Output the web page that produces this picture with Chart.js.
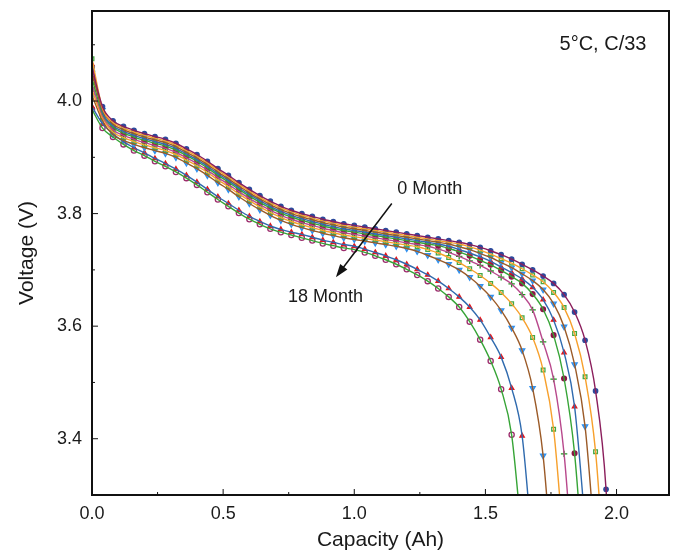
<!DOCTYPE html>
<html>
<head>
<meta charset="utf-8">
<title>Discharge curves, 5°C, C/33</title>
<script src="https://cdn.jsdelivr.net/npm/chart.js@4.4.1/dist/chart.umd.min.js"></script>
<style>
  body { margin: 0; background: #ffffff; }
</style>
</head>
<body>
<canvas id="voltChart" width="679" height="553"></canvas>
<script>
// capacity grid of the measured points (Ah)
var capacity = [
  0.00, 0.04, 0.08, 0.12, 0.16, 0.20, 0.24, 0.28, 0.32, 0.36,
  0.40, 0.44, 0.48, 0.52, 0.56, 0.60, 0.64, 0.68, 0.72, 0.76,
  0.80, 0.84, 0.88, 0.92, 0.96, 1.00, 1.04, 1.08, 1.12, 1.16,
  1.20, 1.24, 1.28, 1.32, 1.36, 1.40, 1.44, 1.48, 1.52, 1.56,
  1.60, 1.64, 1.68, 1.72, 1.76, 1.80, 1.84, 1.88, 1.92, 1.96,
  2.00
];

// cell voltage (V) after each storage period
var volt0m = [
  4.060, 3.990, 3.965, 3.955, 3.948, 3.942, 3.937, 3.932, 3.925, 3.915,
  3.905, 3.893, 3.880, 3.868, 3.855, 3.843, 3.832, 3.822, 3.813, 3.806,
  3.800, 3.795, 3.790, 3.786, 3.782, 3.779, 3.776, 3.773, 3.770, 3.767,
  3.764, 3.761, 3.758, 3.755, 3.752, 3.749, 3.745, 3.740, 3.734, 3.727,
  3.719, 3.710, 3.700, 3.689, 3.676, 3.656, 3.625, 3.575, 3.485, 3.310,
  2.900
];
var volt2m = [
  4.075, 3.987, 3.962, 3.952, 3.945, 3.939, 3.934, 3.929, 3.922, 3.912,
  3.902, 3.890, 3.877, 3.865, 3.852, 3.840, 3.829, 3.819, 3.810, 3.803,
  3.797, 3.792, 3.787, 3.783, 3.779, 3.776, 3.773, 3.770, 3.767, 3.764,
  3.761, 3.758, 3.755, 3.752, 3.749, 3.746, 3.741, 3.735, 3.728, 3.720,
  3.712, 3.702, 3.691, 3.679, 3.660, 3.633, 3.587, 3.510, 3.377, 3.120
];
var volt4m = [
  4.050, 3.984, 3.959, 3.949, 3.942, 3.936, 3.931, 3.926, 3.919, 3.909,
  3.899, 3.887, 3.874, 3.862, 3.849, 3.837, 3.826, 3.816, 3.807, 3.800,
  3.794, 3.789, 3.784, 3.780, 3.776, 3.773, 3.770, 3.767, 3.764, 3.761,
  3.758, 3.755, 3.752, 3.749, 3.746, 3.741, 3.736, 3.729, 3.722, 3.713,
  3.704, 3.693, 3.681, 3.665, 3.640, 3.599, 3.532, 3.422, 3.200
];
var volt6m = [
  4.065, 3.981, 3.956, 3.946, 3.939, 3.933, 3.928, 3.923, 3.916, 3.906,
  3.896, 3.884, 3.871, 3.859, 3.846, 3.834, 3.823, 3.813, 3.804, 3.797,
  3.791, 3.786, 3.781, 3.777, 3.773, 3.770, 3.767, 3.764, 3.761, 3.758,
  3.755, 3.752, 3.749, 3.746, 3.742, 3.736, 3.730, 3.723, 3.715, 3.705,
  3.695, 3.684, 3.669, 3.647, 3.611, 3.553, 3.457, 3.250
];
var volt8m = [
  4.040, 3.978, 3.953, 3.943, 3.936, 3.930, 3.925, 3.920, 3.913, 3.903,
  3.893, 3.881, 3.868, 3.856, 3.843, 3.831, 3.820, 3.810, 3.801, 3.794,
  3.788, 3.783, 3.778, 3.774, 3.770, 3.767, 3.764, 3.761, 3.758, 3.755,
  3.752, 3.749, 3.746, 3.743, 3.738, 3.732, 3.725, 3.717, 3.709, 3.699,
  3.688, 3.676, 3.657, 3.630, 3.584, 3.507, 3.374, 3.130
];
var volt10m = [
  4.030, 3.974, 3.949, 3.939, 3.932, 3.926, 3.921, 3.916, 3.909, 3.899,
  3.889, 3.877, 3.864, 3.852, 3.839, 3.827, 3.816, 3.806, 3.797, 3.790,
  3.784, 3.779, 3.774, 3.770, 3.766, 3.763, 3.760, 3.757, 3.754, 3.751,
  3.748, 3.745, 3.742, 3.737, 3.731, 3.724, 3.716, 3.708, 3.698, 3.687,
  3.675, 3.656, 3.629, 3.572, 3.506, 3.373, 3.130
];
var volt12m = [
  4.020, 3.970, 3.945, 3.935, 3.928, 3.922, 3.917, 3.912, 3.905, 3.895,
  3.885, 3.873, 3.860, 3.848, 3.835, 3.823, 3.812, 3.802, 3.793, 3.786,
  3.780, 3.775, 3.770, 3.766, 3.762, 3.759, 3.756, 3.753, 3.750, 3.747,
  3.744, 3.741, 3.736, 3.730, 3.722, 3.713, 3.702, 3.690, 3.676, 3.660,
  3.640, 3.615, 3.580, 3.522, 3.417, 3.200
];
var volt14m = [
  4.010, 3.965, 3.940, 3.930, 3.923, 3.917, 3.912, 3.907, 3.900, 3.890,
  3.880, 3.868, 3.855, 3.843, 3.830, 3.818, 3.807, 3.797, 3.788, 3.781,
  3.775, 3.770, 3.765, 3.761, 3.757, 3.754, 3.751, 3.748, 3.745, 3.742,
  3.738, 3.733, 3.726, 3.718, 3.710, 3.700, 3.687, 3.671, 3.652, 3.628,
  3.597, 3.557, 3.490, 3.370, 3.140
];
var volt16m = [
  3.990, 3.960, 3.942, 3.928, 3.917, 3.908, 3.898, 3.889, 3.879, 3.868,
  3.856, 3.843, 3.830, 3.818, 3.806, 3.795, 3.786, 3.778, 3.772, 3.767,
  3.763, 3.758, 3.753, 3.749, 3.745, 3.742, 3.737, 3.731, 3.725, 3.718,
  3.710, 3.701, 3.691, 3.680, 3.667, 3.652, 3.634, 3.611, 3.580, 3.545,
  3.490, 3.405, 3.200
];
var volt18m = [
  3.985, 3.952, 3.936, 3.923, 3.912, 3.903, 3.893, 3.884, 3.874, 3.863,
  3.851, 3.838, 3.825, 3.813, 3.801, 3.790, 3.781, 3.773, 3.767, 3.762,
  3.757, 3.752, 3.747, 3.743, 3.739, 3.736, 3.731, 3.725, 3.718, 3.710,
  3.701, 3.691, 3.680, 3.667, 3.652, 3.634, 3.608, 3.576, 3.538, 3.488,
  3.407, 3.220
];

var xTicks = [0.0, 0.5, 1.0, 1.5, 2.0];
var xMinorTicks = [0.25, 0.75, 1.25, 1.75];
var yTicks = [3.4, 3.6, 3.8, 4.0];
var yMinorTicks = [3.5, 3.7, 3.9, 4.1];

var fontFamily = "'Liberation Sans', Arial, Helvetica, sans-serif";

function toPoints(volts) {
  var pts = [];
  for (var i = 0; i < volts.length; i++) {
    pts.push({ x: capacity[i], y: volts[i] });
  }
  return pts;
}

// line colour = model fit, marker = measured data
var curves = [
  { volts: volt0m,  line: "#8b1e5c", style: "circle",   edge: "#2c4a9c", fill: "#2c4a9c", r: 2.2, rot: 0 },
  { volts: volt2m,  line: "#f7a02c", style: "rect",     edge: "#45a843", fill: "rgba(255,255,255,0)", r: 2.6, rot: 0 },
  { volts: volt4m,  line: "#9b5a27", style: "triangle", edge: "#2f90ef", fill: "#6ab4fb", r: 3.0, rot: 180 },
  { volts: volt6m,  line: "#2f6aae", style: "triangle", edge: "#e3181d", fill: "#e3181d", r: 2.5, rot: 0 },
  { volts: volt8m,  line: "#36a436", style: "circle",   edge: "#8c1446", fill: "#8c1446", r: 2.4, rot: 0 },
  { volts: volt10m, line: "#b8488c", style: "cross",    edge: "#1f951f", fill: "#1f951f", r: 3.2, rot: 0 },
  { volts: volt12m, line: "#f7a02c", style: "rect",     edge: "#45a843", fill: "rgba(255,255,255,0)", r: 2.6, rot: 0 },
  { volts: volt14m, line: "#9b5a27", style: "triangle", edge: "#2f90ef", fill: "#6ab4fb", r: 3.0, rot: 180 },
  { volts: volt16m, line: "#2f6aae", style: "triangle", edge: "#e3181d", fill: "#e3181d", r: 2.5, rot: 0 },
  { volts: volt18m, line: "#36a436", style: "circle",   edge: "#9c2c6c", fill: "rgba(255,255,255,0)", r: 2.6, rot: 0 }
];

var datasets = [];
curves.forEach(function(c) {
  datasets.push({
    data: toPoints(c.volts),
    showLine: false,
    pointStyle: c.style,
    pointRotation: c.rot,
    pointRadius: c.r,
    pointBorderColor: c.edge,
    pointBackgroundColor: c.fill,
    pointBorderWidth: 1.3,
    order: 2
  });
});
curves.forEach(function(c) {
  datasets.push({
    data: toPoints(c.volts),
    borderColor: c.line,
    borderWidth: 1.4,
    pointRadius: 0,
    cubicInterpolationMode: "monotone",
    fill: false,
    order: 1
  });
});

// closed frame plus inward tick marks
var frameTicks = {
  id: "frameTicks",
  afterDraw: function(chart) {
    var ctx = chart.ctx;
    var a = chart.chartArea;
    var sx = chart.scales.x;
    var sy = chart.scales.y;
    ctx.save();
    ctx.strokeStyle = "#111";
    ctx.lineWidth = 1;
    ctx.beginPath();
    xTicks.forEach(function(v) {
      var px = sx.getPixelForValue(v);
      ctx.moveTo(px, a.bottom); ctx.lineTo(px, a.bottom - 6);
    });
    xMinorTicks.forEach(function(v) {
      var px = sx.getPixelForValue(v);
      ctx.moveTo(px, a.bottom); ctx.lineTo(px, a.bottom - 3);
    });
    yTicks.forEach(function(v) {
      var py = sy.getPixelForValue(v);
      ctx.moveTo(a.left, py); ctx.lineTo(a.left + 6, py);
    });
    yMinorTicks.forEach(function(v) {
      var py = sy.getPixelForValue(v);
      ctx.moveTo(a.left, py); ctx.lineTo(a.left + 3, py);
    });
    ctx.stroke();
    ctx.lineWidth = 2;
    ctx.strokeRect(a.left, a.top, a.right - a.left, a.bottom - a.top);
    ctx.restore();
  }
};

// condition label and the ageing arrow
var notes = {
  id: "notes",
  afterDraw: function(chart) {
    var ctx = chart.ctx;
    var sx = chart.scales.x;
    var sy = chart.scales.y;
    ctx.save();
    ctx.fillStyle = "#1a1a1a";
    ctx.textBaseline = "middle";
    ctx.textAlign = "right";
    ctx.font = "20px " + fontFamily;
    ctx.fillText("5\u00B0C, C/33", sx.getPixelForValue(2.114), sy.getPixelForValue(4.101));
    ctx.textAlign = "center";
    ctx.font = "18px " + fontFamily;
    ctx.fillText("0 Month", sx.getPixelForValue(1.288), sy.getPixelForValue(3.844));
    ctx.fillText("18 Month", sx.getPixelForValue(0.89), sy.getPixelForValue(3.651));

    var x0 = sx.getPixelForValue(1.143), y0 = sy.getPixelForValue(3.818);
    var x1 = sx.getPixelForValue(0.93), y1 = sy.getPixelForValue(3.687);
    var ang = Math.atan2(y1 - y0, x1 - x0);
    var cos = Math.cos(ang), sin = Math.sin(ang);
    ctx.strokeStyle = "#111";
    ctx.lineWidth = 1.5;
    ctx.beginPath();
    ctx.moveTo(x0, y0);
    ctx.lineTo(x1 - 10 * cos, y1 - 10 * sin);
    ctx.stroke();
    ctx.fillStyle = "#111";
    ctx.beginPath();
    ctx.moveTo(x1, y1);
    ctx.lineTo(x1 - 13 * cos + 4.5 * sin, y1 - 13 * sin - 4.5 * cos);
    ctx.lineTo(x1 - 13 * cos - 4.5 * sin, y1 - 13 * sin + 4.5 * cos);
    ctx.closePath();
    ctx.fill();
    ctx.restore();
  }
};

var ctx = document.getElementById("voltChart").getContext("2d");
window.voltChart = new Chart(ctx, {
  type: "line",
  data: { datasets: datasets },
  plugins: [frameTicks, notes],
  options: {
    responsive: false,
    animation: false,
    devicePixelRatio: 1,
    layout: { padding: { top: 11, right: 10, left: 0, bottom: 0 } },
    plugins: {
      legend: { display: false },
      tooltip: { enabled: false }
    },
    scales: {
      x: {
        type: "linear",
        min: 0,
        max: 2.2,
        afterBuildTicks: function(scale) {
          scale.ticks = xTicks.map(function(v) { return { value: v }; });
        },
        afterFit: function(scale) {
          scale.height = 58;
          scale.paddingLeft = 0;
          scale.paddingRight = 0;
        },
        grid: { display: false, drawTicks: false },
        border: { display: false },
        ticks: {
          padding: 8,
          maxRotation: 0,
          color: "#1a1a1a",
          font: { family: fontFamily, size: 18 },
          callback: function(v) { return Number(v).toFixed(1); }
        },
        title: {
          display: true,
          text: "Capacity (Ah)",
          color: "#1a1a1a",
          font: { family: fontFamily, size: 21 },
          padding: { top: 0, bottom: 0 }
        }
      },
      y: {
        type: "linear",
        min: 3.3,
        max: 4.16,
        afterBuildTicks: function(scale) {
          scale.ticks = yTicks.map(function(v) { return { value: v }; });
        },
        afterFit: function(scale) {
          scale.width = 92;
          scale.paddingTop = 0;
          scale.paddingBottom = 0;
        },
        grid: { display: false, drawTicks: false },
        border: { display: false },
        ticks: {
          padding: 10,
          color: "#1a1a1a",
          font: { family: fontFamily, size: 18 },
          callback: function(v) { return Number(v).toFixed(1); }
        },
        title: {
          display: true,
          text: "Voltage (V)",
          color: "#1a1a1a",
          font: { family: fontFamily, size: 21 },
          padding: { top: 15, bottom: 0 }
        }
      }
    }
  }
});
</script>
</body>
</html>
